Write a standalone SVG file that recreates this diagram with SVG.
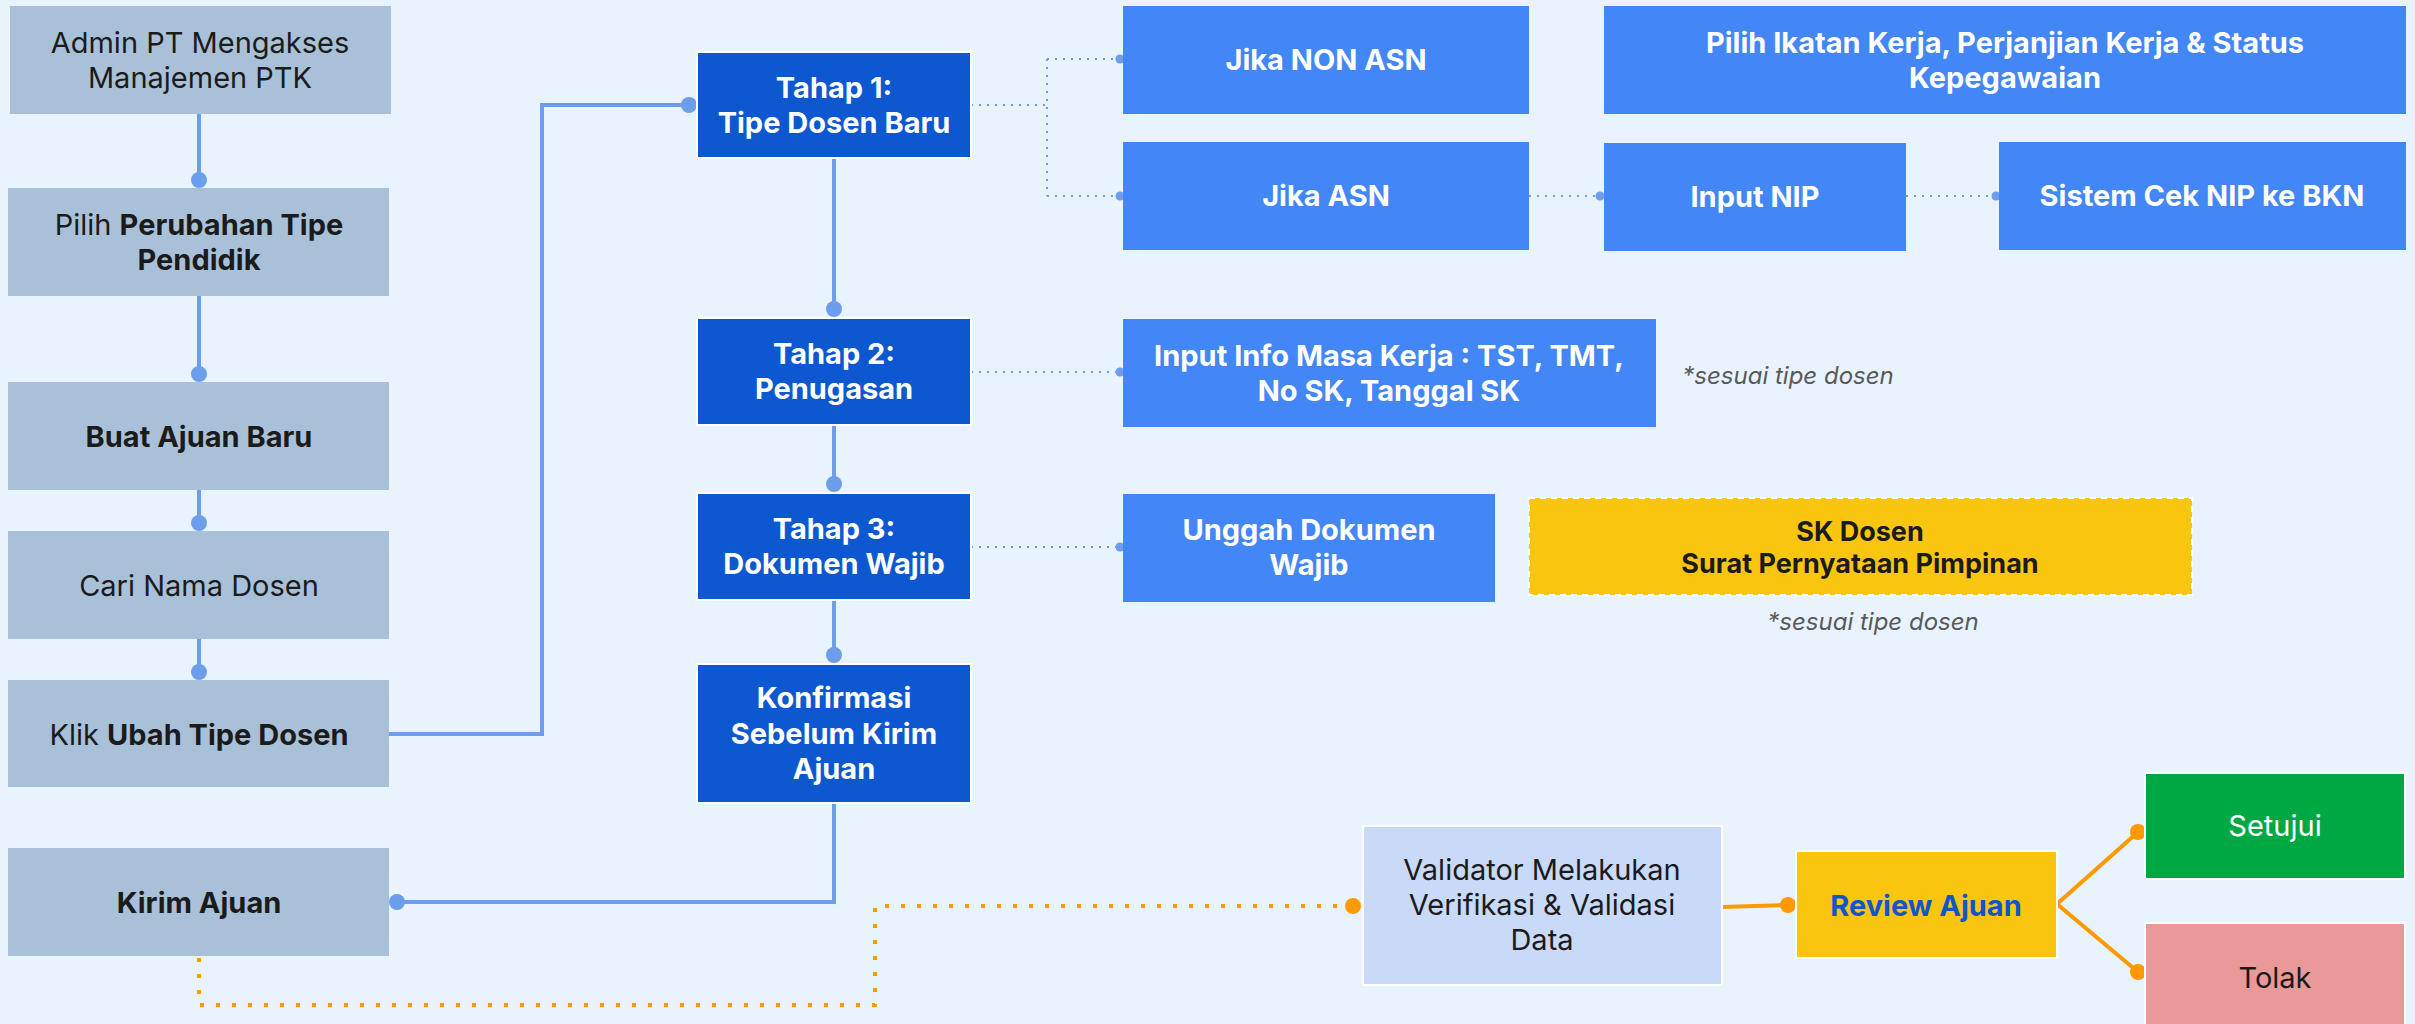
<svg xmlns="http://www.w3.org/2000/svg" width="2415" height="1024" viewBox="0 0 2415 1024">
<style>
text{font-family:Inter,"Noto Sans","Liberation Sans",sans-serif;text-anchor:middle;}
.g{fill:#a9c1d8;}
.db{fill:#0d58d1;stroke:#ffffff;stroke-width:2;}
.mb{fill:#4386f5;}
.dk{fill:#1b1b1b;font-size:29px;}
.wt{fill:#ffffff;font-size:29px;font-weight:700;}
.b{font-weight:700;}
.note{fill:#595959;font-size:24px;font-style:italic;}
.cs{fill:none;stroke:#6d9eeb;stroke-width:4;}
.cd{fill:none;stroke:#6d9eeb;stroke-width:2;stroke-dasharray:2 6;}
.od{fill:none;stroke:#ff9900;stroke-width:4;stroke-dasharray:4 12;}
.os{fill:none;stroke:#ff9900;stroke-width:4;}
.bd{fill:#6d9eeb;}
.odot{fill:#ff9900;}
</style>
<rect x="0" y="0" width="2415" height="1024" fill="#e8f3fe"/>

<g id="connectors">
  <path class="cs" d="M199,114 V180"/><circle class="bd" cx="199" cy="180" r="8"/>
  <path class="cs" d="M199,296 V374"/><circle class="bd" cx="199" cy="374" r="8"/>
  <path class="cs" d="M199,490 V523"/><circle class="bd" cx="199" cy="523" r="8"/>
  <path class="cs" d="M199,639 V672"/><circle class="bd" cx="199" cy="672" r="8"/>
  <path class="cs" d="M389,734 H542 V105 H689"/><circle class="bd" cx="689" cy="105" r="8"/>
  <path class="cs" d="M834,158 V309"/><circle class="bd" cx="834" cy="309" r="8"/>
  <path class="cs" d="M834,425 V484"/><circle class="bd" cx="834" cy="484" r="8"/>
  <path class="cs" d="M834,600 V655"/><circle class="bd" cx="834" cy="655" r="8"/>
  <path class="cs" d="M834,803 V902 H397"/><circle class="bd" cx="397" cy="902" r="8"/>
  <path class="cd" d="M971,105 H1047 M1047,59 V196 M1047,59 H1120 M1047,196 H1120"/>
  <circle class="bd" cx="1120" cy="59" r="4.5"/><circle class="bd" cx="1120" cy="196" r="4.5"/>
  <path class="cd" d="M1529,196 H1600"/><circle class="bd" cx="1600" cy="196" r="4.5"/>
  <path class="cd" d="M1906,196 H1996"/><circle class="bd" cx="1996" cy="196" r="4.5"/>
  <path class="cd" d="M971,372 H1120"/><circle class="bd" cx="1120" cy="372" r="4.5"/>
  <path class="cd" d="M971,547 H1120"/><circle class="bd" cx="1120" cy="547" r="4.5"/>
  <path class="od" d="M199,958 V1005 H875 V906 H1345"/><circle class="odot" cx="1353" cy="906" r="8"/>
  <path class="os" d="M1722,907 L1788,905"/><circle class="odot" cx="1788" cy="905" r="8"/>
  <path class="os" d="M2057,904 L2138,832 M2057,904 L2138,972"/>
  <circle class="odot" cx="2138" cy="832" r="8"/><circle class="odot" cx="2138" cy="972" r="8"/>
</g>

<g id="n-admin"><rect class="g" x="10" y="6" width="381" height="108"/>
<text class="dk" x="200" y="53">Admin PT Mengakses</text><text class="dk" x="200" y="88">Manajemen PTK</text></g>
<g id="n-pilih"><rect class="g" x="8" y="188" width="381" height="108"/>
<text class="dk" x="199" y="235">Pilih <tspan class="b">Perubahan Tipe</tspan></text><text class="dk b" x="199" y="270">Pendidik</text></g>
<g id="n-buat"><rect class="g" x="8" y="382" width="381" height="108"/>
<text class="dk b" x="199" y="447">Buat Ajuan Baru</text></g>
<g id="n-cari"><rect class="g" x="8" y="531" width="381" height="108"/>
<text class="dk" x="199" y="596">Cari Nama Dosen</text></g>
<g id="n-klik"><rect class="g" x="8" y="680" width="381" height="107"/>
<text class="dk" x="199" y="745">Klik <tspan class="b">Ubah Tipe Dosen</tspan></text></g>
<g id="n-kirim"><rect class="g" x="8" y="848" width="381" height="108"/>
<text class="dk b" x="199" y="913">Kirim Ajuan</text></g>

<g id="n-tahap1"><rect class="db" x="697" y="52" width="274" height="106"/>
<text class="wt" x="834" y="98">Tahap 1:</text><text class="wt" x="834" y="133">Tipe Dosen Baru</text></g>
<g id="n-tahap2"><rect class="db" x="697" y="318" width="274" height="107"/>
<text class="wt" x="834" y="364">Tahap 2:</text><text class="wt" x="834" y="399">Penugasan</text></g>
<g id="n-tahap3"><rect class="db" x="697" y="493" width="274" height="107"/>
<text class="wt" x="834" y="539">Tahap 3:</text><text class="wt" x="834" y="574">Dokumen Wajib</text></g>
<g id="n-konfirmasi"><rect class="db" x="697" y="664" width="274" height="139"/>
<text class="wt" x="834" y="708">Konfirmasi</text><text class="wt" x="834" y="744">Sebelum Kirim</text><text class="wt" x="834" y="779">Ajuan</text></g>

<g id="n-nonasn"><rect class="mb" x="1123" y="6" width="406" height="108"/>
<text class="wt" x="1326" y="70">Jika NON ASN</text></g>
<g id="n-asn"><rect class="mb" x="1123" y="142" width="406" height="108"/>
<text class="wt" x="1326" y="206">Jika ASN</text></g>
<g id="n-ikatan"><rect class="mb" x="1604" y="6" width="802" height="108"/>
<text class="wt" x="2005" y="53">Pilih Ikatan Kerja, Perjanjian Kerja &amp; Status</text><text class="wt" x="2005" y="88">Kepegawaian</text></g>
<g id="n-nip"><rect class="mb" x="1604" y="143" width="302" height="108"/>
<text class="wt" x="1755" y="207">Input NIP</text></g>
<g id="n-bkn"><rect class="mb" x="1999" y="142" width="407" height="108"/>
<text class="wt" x="2202" y="206">Sistem Cek NIP ke BKN</text></g>
<g id="n-masakerja"><rect class="mb" x="1123" y="319" width="533" height="108"/>
<text class="wt" x="1389" y="366">Input Info Masa Kerja : TST, TMT,</text><text class="wt" x="1389" y="401">No SK, Tanggal SK</text></g>
<g id="n-note1"><text class="note" x="1788" y="384">*sesuai tipe dosen</text></g>
<g id="n-unggah"><rect class="mb" x="1123" y="494" width="372" height="108"/>
<text class="wt" x="1309" y="540">Unggah Dokumen</text><text class="wt" x="1309" y="575">Wajib</text></g>
<g id="n-skdosen"><rect x="1529" y="498" width="663" height="97" fill="#f9c60f" stroke="#ffffff" stroke-width="2" stroke-dasharray="6 5"/>
<text class="dk b" x="1860" y="541" style="font-size:27px">SK Dosen</text><text class="dk b" x="1860" y="573" style="font-size:27px">Surat Pernyataan Pimpinan</text></g>
<g id="n-note2"><text class="note" x="1873" y="630">*sesuai tipe dosen</text></g>

<g id="n-validator"><rect x="1363" y="826" width="359" height="159" fill="#c9daf8" stroke="#ffffff" stroke-width="2"/>
<text class="dk" x="1542" y="880">Validator Melakukan</text><text class="dk" x="1542" y="915">Verifikasi &amp; Validasi</text><text class="dk" x="1542" y="950">Data</text></g>
<g id="n-review"><rect x="1796" y="851" width="261" height="107" fill="#f9c60f" stroke="#ffffff" stroke-width="2"/>
<text x="1926" y="916" style="font-size:29px;font-weight:700;fill:#1155cc">Review Ajuan</text></g>
<g id="n-setujui"><rect x="2145" y="773" width="260" height="106" fill="#00a843" stroke="#ffffff" stroke-width="2"/>
<text x="2275" y="836" style="font-size:29px;fill:#ffffff">Setujui</text></g>
<g id="n-tolak"><rect x="2145" y="923" width="260" height="108" fill="#ea9999" stroke="#ffffff" stroke-width="2"/>
<text class="dk" x="2275" y="988">Tolak</text></g>
</svg>
